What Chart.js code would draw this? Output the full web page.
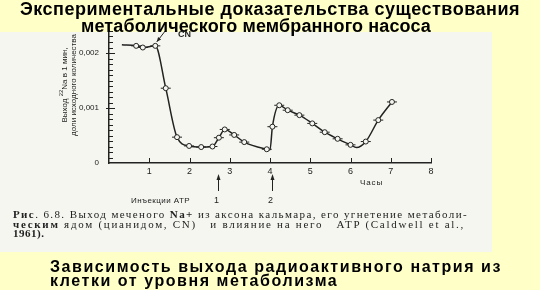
<!DOCTYPE html>
<html>
<head>
<meta charset="utf-8">
<script src="https://cdn.jsdelivr.net/npm/chart.js@4.4.1/dist/chart.umd.min.js"></script>
<style>
  html,body{margin:0;padding:0;}
  body{width:540px;height:290px;overflow:hidden;background:#ffffc8;position:relative;font-family:"Liberation Sans",Arial,sans-serif;color:#111;}
  #scan{position:absolute;left:0;top:32px;width:492px;height:220px;background:#f6f6f1;}
  canvas{position:absolute;left:0;top:0;}
  .t{position:absolute;white-space:nowrap;}
  .title{font-weight:bold;font-size:18px;line-height:18px;color:#000;}
  .cap{font-family:"Liberation Serif","DejaVu Serif",serif;font-size:11px;line-height:11px;color:#222;}
  .bot{font-weight:bold;font-size:16px;line-height:16px;color:#000;}
  .small{font-size:8px;line-height:8px;color:#222;}
</style>
</head>
<body>
<div id="scan"></div>
<canvas id="c" width="540" height="290"></canvas>

<div class="t title" data-w="500" style="left:20px;top:0px;">Экспериментальные доказательства существования</div>
<div class="t title" data-w="350" style="left:81px;top:17px;">метаболического мембранного насоса</div>

<div class="t small" style="left:178px;top:30px;font-weight:bold;font-size:9px;line-height:9px;">CN</div>

<div class="t small" style="left:63px;top:85px;transform:translate(-50%,-50%) rotate(-90deg);">Выход <sup style="font-size:6px">22</sup>Na в 1 мин,</div>
<div class="t small" style="left:74px;top:85px;transform:translate(-50%,-50%) rotate(-90deg);">доли исходного количества</div>

<div class="t small" data-w="23" style="left:360px;top:179px;">Часы</div>
<div class="t small" data-w="59" style="left:131px;top:197px;">Инъекции АТР</div>
<div class="t small" style="left:214px;top:196px;font-size:9px;">1</div>
<div class="t small" style="left:268px;top:196px;font-size:9px;">2</div>

<div class="t cap" data-w="455" style="left:13px;top:209px;"><b>Рис</b>. 6.8. Выход меченого <b>Na+</b> из аксона кальмара, его угнетение метаболи-</div>
<div class="t cap" data-w="452" style="left:13px;top:219px;"><b>ческим</b> ядом (цианидом, CN)&nbsp;&nbsp; и влияние на него&nbsp;&nbsp; ATP (Caldwell et al.,</div>
<div class="t cap" style="left:13px;top:228px;letter-spacing:0.5px;"><b>1961).</b></div>

<div class="t bot" data-w="452" id="b1" style="left:50px;top:259px;">Зависимость выхода радиоактивного натрия из</div>
<div class="t bot" id="b2" style="left:50px;top:273px;">клетки от уровня метаболизма</div>

<script>
// Measured points (hours, fraction of initial 22Na per min)
const hours  = [0.675, 0.84, 1.15, 1.41, 1.69, 1.99, 2.29, 2.57, 2.73, 2.875, 3.11, 3.36, 3.92, 4.06, 4.23, 4.44, 4.73, 5.05, 5.36, 5.68, 6.0, 6.38, 6.69, 7.03];
const efflux = [0.00213, 0.0021, 0.00213, 0.00136, 0.00047, 0.00031, 0.00029, 0.0003, 0.00046, 0.00061, 0.00051, 0.00038, 0.00025, 0.00066, 0.00105, 0.00096, 0.00087, 0.00072, 0.00056, 0.00044, 0.00033, 0.00039, 0.00078, 0.00111];
const curveHours  = [0.32, 0.675, 0.84, 1.15, 1.41, 1.69, 1.99, 2.29, 2.57, 2.73, 2.875, 3.11, 3.36, 3.92, 4.0, 4.06, 4.23, 4.44, 4.73, 5.05, 5.36, 5.68, 6.0, 6.15, 6.38, 6.69, 7.03];
const curveValues = [0.00215, 0.00213, 0.0021, 0.00213, 0.00136, 0.00047, 0.00031, 0.00029, 0.0003, 0.00046, 0.00061, 0.00051, 0.00038, 0.00025, 0.00024, 0.00066, 0.00105, 0.00096, 0.00087, 0.00072, 0.00056, 0.00044, 0.00033, 0.00028, 0.00039, 0.00078, 0.00111];
// Axis ticks
const xTickLabels = ['', '1', '2', '3', '4', '5', '6', '7', '8'];
const yMajorLabels = {0: '0', 1: '0,001', 2: '0,002'};
// ATP injections (hours) and cyanide application point
const atpInjections = [2.7, 4.04];
const atpLabels = ['1', '2'];
const cnHour = 1.15, cnValue = 0.00213;

// fit letter-spacing of text lines to target widths
document.querySelectorAll('[data-w]').forEach(el => {
  const target = +el.dataset.w;
  const n = el.textContent.length;
  const w = el.getBoundingClientRect().width;
  el.style.letterSpacing = ((target - w) / n) + 'px';
});
document.getElementById('b2').style.letterSpacing = document.getElementById('b1').style.letterSpacing;

const ink = '#222';
const decor = {
  id: 'decor',
  afterDraw(chart) {
    const ctx = chart.ctx, xs = chart.scales.x, ys = chart.scales.y;
    ctx.save();
    ctx.strokeStyle = ink; ctx.fillStyle = ink; ctx.lineWidth = 1;
    ctx.beginPath();
    ys.ticks.forEach((t, i) => {
      if (t.value === 0) return;
      const py = Math.round(ys.getPixelForTick(i)) + 0.5;
      const major = Math.abs(t.value * 1000 - Math.round(t.value * 1000)) < 1e-6;
      ctx.moveTo(ys.right - (major ? 3 : 0), py);
      ctx.lineTo(ys.right + (major ? 6 : 4), py);
    });
    xs.ticks.forEach((t, i) => {
      if (t.value === 0) return;
      const px = Math.round(xs.getPixelForTick(i)) + 0.5;
      ctx.moveTo(px, xs.top);
      ctx.lineTo(px, xs.top - 5);
    });
    ctx.stroke();
    // ATP arrows
    atpInjections.forEach(h => {
      const px = Math.round(xs.getPixelForValue(h)) + 0.5;
      ctx.beginPath(); ctx.moveTo(px, 191); ctx.lineTo(px, 177); ctx.stroke();
      ctx.beginPath(); ctx.moveTo(px, 174); ctx.lineTo(px - 2, 180); ctx.lineTo(px + 2, 180); ctx.closePath(); ctx.fill();
    });
    // CN arrow
    const cx = xs.getPixelForValue(cnHour), cy = ys.getPixelForValue(cnValue);
    const ex = cx + 1.5, ey = cy - 4, sx = cx + 10, sy = cy - 15;
    ctx.beginPath(); ctx.moveTo(sx, sy); ctx.lineTo(ex, ey); ctx.stroke();
    const a = Math.atan2(ey - sy, ex - sx);
    ctx.beginPath(); ctx.moveTo(ex, ey);
    ctx.lineTo(ex - 5 * Math.cos(a - 0.4), ey - 5 * Math.sin(a - 0.4));
    ctx.lineTo(ex - 5 * Math.cos(a + 0.4), ey - 5 * Math.sin(a + 0.4));
    ctx.closePath(); ctx.fill();
    ctx.restore();
  }
};

const pts = (xs, ys) => xs.map((x, i) => ({x, y: ys[i]}));

new Chart(document.getElementById('c'), {
  type: 'scatter',
  data: {
    datasets: [
      {
        data: pts(curveHours, curveValues), showLine: true, borderColor: ink, borderWidth: 1.5,
        pointRadius: 0, cubicInterpolationMode: 'monotone', order: 3
      },
      {
        data: pts(hours, efflux), showLine: false, pointStyle: 'line', pointRadius: 5,
        borderColor: ink, borderWidth: 1, order: 2
      },
      {
        data: pts(hours, efflux), showLine: false, pointStyle: 'circle', pointRadius: 2.5,
        borderColor: ink, backgroundColor: '#f6f6f1', borderWidth: 1, order: 1
      }
    ]
  },
  options: {
    responsive: false, animation: false,
    layout: {padding: {top: 31, right: 109, left: 0, bottom: 0}},
    plugins: {legend: {display: false}, tooltip: {enabled: false}},
    scales: {
      x: {
        type: 'linear', min: 0, max: 8,
        afterFit(s) { s.height = 290 - 163; },
        grid: {display: false, drawTicks: false},
        border: {display: true, color: ink, width: 1.5},
        ticks: {stepSize: 1, padding: 3, color: ink, font: {family: 'Liberation Sans', size: 9},
          callback: (v) => xTickLabels[Math.round(v)] ?? ''}
      },
      y: {
        type: 'linear', min: 0, max: 0.0024,
        afterFit(s) { s.width = 109; },
        grid: {display: false, drawTicks: false},
        border: {display: true, color: ink, width: 1.5},
        ticks: {stepSize: 0.0001, padding: 10, color: ink, autoSkip: false, font: {family: 'Liberation Sans', size: 8},
          callback: (v) => {
            const k = v * 1000;
            return Math.abs(k - Math.round(k)) < 1e-6 ? (yMajorLabels[Math.round(k)] ?? '') : '';
          }}
      }
    }
  },
  plugins: [decor]
});
</script>
</body>
</html>
